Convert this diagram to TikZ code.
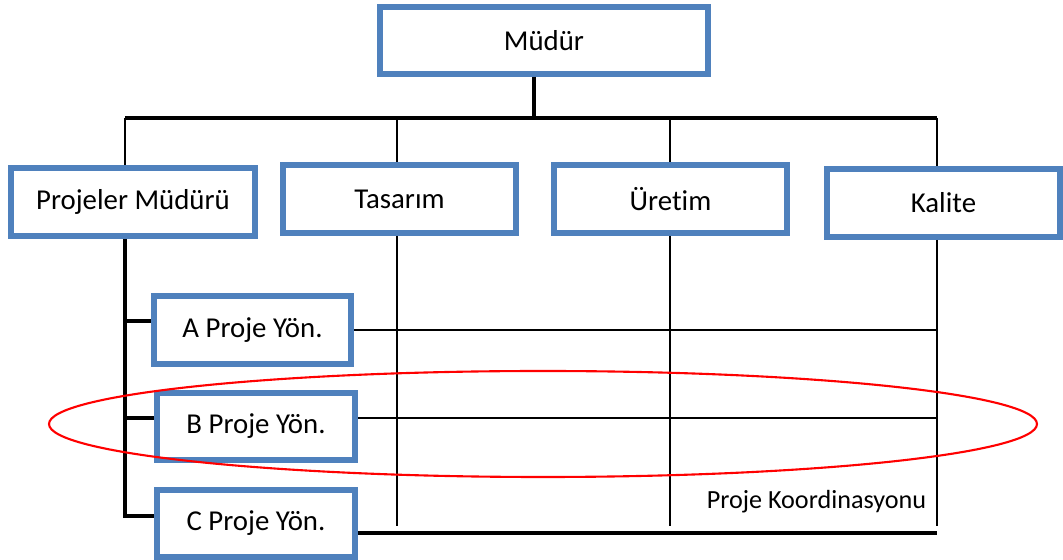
\documentclass[tikz,border=0pt]{standalone}
\usepackage{fontspec}
\setmainfont[Ligatures=NoCommon]{Carlito}
\usetikzlibrary{positioning}

\definecolor{boxblue}{RGB}{79,129,189}

\begin{document}
\begin{tikzpicture}[x=0.02cm, y=-0.02cm,
    box/.style={draw=boxblue, line width=3.4pt, fill=white, inner sep=0pt,
                font=\fontsize{16.4}{19}\selectfont},
    wbox/.style={box, minimum width=4.66cm, minimum height=1.36cm},
    pbox/.style={box, minimum width=3.96cm, minimum height=1.35cm},
    hat/.style={black, line width=1.7pt},
    bus/.style={black, line width=2.3pt},
    vurgu/.style={red, line width=1.2pt}
]
\useasboundingbox (0,0) rectangle (1063,560);

% Top level
\node[box, minimum width=6.56cm, minimum height=1.34cm] (mudur) at (544,40.5) {Müdür};

% Departments
\node[box, minimum width=4.88cm, minimum height=1.36cm] (pm) at (133,202) {Projeler Müdürü};
\node[wbox] (tas) at (399.5,199) {Tasarım};
\node[wbox] (ure) at (670.5,199) {Üretim};
\node[wbox] (kal) at (943.5,203) {Kalite};

% Project managers
\node[pbox] (a) at (252.5,330) {A Proje Yön.};
\node[pbox] (b) at (256,426.5) {B Proje Yön.};
\node[pbox] (c) at (256,523.5) {C Proje Yön.};

% Bus and columns
\coordinate (top) at (534,118);
\coordinate (k1) at (125,118);
\coordinate (k2) at (397,118);
\coordinate (k3) at (670,118);
\coordinate (k4) at (937,118);
\coordinate (alt) at (0,526);

\draw[bus] (top |- mudur.south) -- (top);
\draw[bus] (k1) -- (k4);
\draw[hat] (k1) -- (k1 |- pm.north);
\draw[hat] (k2) -- (k2 |- tas.north);
\draw[hat] (k3) -- (k3 |- ure.north);
\draw[hat] (k4) -- (k4 |- kal.north);

% Columns going down
\draw[bus] (k1 |- pm.south) |- ([yshift=0.15cm]c.west);
\draw[hat] (k2 |- tas.south) -- (k2 |- alt);
\draw[hat] (k3 |- ure.south) -- (k3 |- alt);
\draw[hat] (k4 |- kal.south) -- (k4 |- alt);

% Stubs to the project managers
\draw[bus] ([yshift=0.18cm]a.west -| k1) -- ([yshift=0.18cm]a.west);
\draw[bus] ([yshift=0.17cm]b.west -| k1) -- ([yshift=0.17cm]b.west);

% Project lines
\draw[hat] (a.east) -- (a.east -| k4);
\draw[hat] ([yshift=0.17cm]b.east) -- ([yshift=0.17cm]b.east -| k4);
\draw[bus] ([yshift=-0.19cm]c.east) -- ([yshift=-0.19cm]c.east -| k4);

\node[anchor=base, font=\fontsize{14.9}{18}\selectfont] (koord) at (816.5,509) {Proje Koordinasyonu};

% Highlight
\draw[vurgu] (543,424) ellipse [x radius=494, y radius=53];

\end{tikzpicture}
\end{document}
